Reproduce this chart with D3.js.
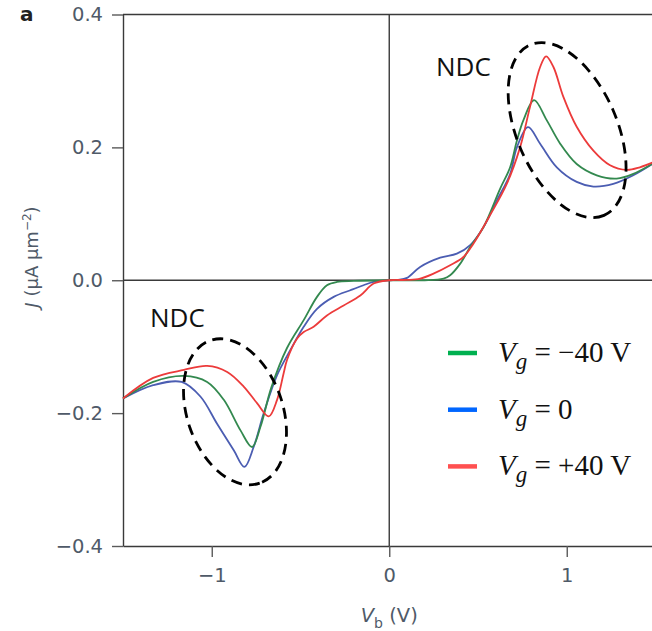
<!DOCTYPE html>
<html>
<head>
<meta charset="utf-8">
<script src="https://cdn.jsdelivr.net/npm/d3@7"></script>
<style>
  body { margin: 0; background: #fff; }
  svg { display: block; }
</style>
</head>
<body>
<div id="chart"></div>
<script>
// axis ticks
const xTicks = [-1, 0, 1];
const yTicks = [-0.4, -0.2, 0, 0.2, 0.4];

// legend entries (gate voltage)
const gateLabels = ['\u221240 V', '0', '+40 V'];

// J-V curves: [Vb (V), J (uA um^-2)]
const curveNeg40 = [
  [-1.5, -0.178], [-1.33, -0.153], [-1.157, -0.144], [-1.026, -0.153], [-0.932, -0.180],
  [-0.838, -0.226], [-0.773, -0.251], [-0.726, -0.221], [-0.665, -0.162], [-0.576, -0.102],
  [-0.482, -0.060], [-0.407, -0.025], [-0.351, -0.0075], [-0.294, -0.0025], [-0.2, -0.001],
  [0, 0], [0.2, 0], [0.306, 0.0025], [0.343, 0.0075], [0.4, 0.025], [0.456, 0.05],
  [0.531, 0.08], [0.625, 0.138], [0.681, 0.17], [0.719, 0.21], [0.756, 0.241], [0.816, 0.271],
  [0.887, 0.241], [0.962, 0.206], [1.056, 0.175], [1.169, 0.158], [1.281, 0.153],
  [1.375, 0.16], [1.5, 0.178]
];
const curveZero = [
  [-1.5, -0.178], [-1.33, -0.158], [-1.17, -0.153], [-1.064, -0.175], [-0.97, -0.216],
  [-0.876, -0.256], [-0.816, -0.281], [-0.764, -0.251], [-0.707, -0.2], [-0.632, -0.143],
  [-0.557, -0.105], [-0.482, -0.07], [-0.407, -0.043], [-0.313, -0.025], [-0.219, -0.015],
  [-0.145, -0.0075], [-0.088, -0.0025], [0, 0], [0.05, 0.0005], [0.1, 0.0035], [0.174, 0.02],
  [0.287, 0.034], [0.381, 0.04], [0.456, 0.053], [0.531, 0.08], [0.606, 0.12], [0.681, 0.16],
  [0.719, 0.2], [0.782, 0.2305], [0.85, 0.2055], [0.944, 0.17], [1.056, 0.148], [1.15, 0.141],
  [1.262, 0.145], [1.375, 0.158], [1.5, 0.178]
];
const curvePos40 = [
  [-1.5, -0.178], [-1.33, -0.147], [-1.157, -0.135], [-1.026, -0.129], [-0.913, -0.138],
  [-0.82, -0.16], [-0.745, -0.185], [-0.679, -0.205], [-0.632, -0.18], [-0.595, -0.14],
  [-0.576, -0.12], [-0.52, -0.088], [-0.482, -0.078], [-0.426, -0.07], [-0.351, -0.053],
  [-0.257, -0.038], [-0.163, -0.023], [-0.088, -0.005], [0, 0], [0.1, 0.0005], [0.174, 0.0025],
  [0.249, 0.01], [0.343, 0.0226], [0.418, 0.035], [0.474, 0.055], [0.568, 0.098], [0.662, 0.145],
  [0.737, 0.2], [0.793, 0.261], [0.85, 0.321], [0.884, 0.337], [0.925, 0.321], [0.981, 0.276],
  [1.056, 0.231], [1.15, 0.195], [1.244, 0.173], [1.338, 0.166], [1.412, 0.17], [1.5, 0.179]
];

// NDC regions: centre [Vb, J], semi-axes in px, tilt in degrees
const ndcRegions = [
  { label: 'NDC', centre: [-0.869, -0.198], rx: 75.5, ry: 47.8, tilt: 70.9 },
  { label: 'NDC', centre: [1.002, 0.226], rx: 92.9, ry: 50.1, tilt: 66.6 }
];

const width = 652;
const height = 631;

const x = d3.scaleLinear().domain([-1.5, 1.5]).range([123, 655.5]);
const y = d3.scaleLinear().domain([-0.4, 0.4]).range([546, 14.5]);

const svg = d3.select('#chart').append('svg')
  .attr('width', width)
  .attr('height', height);

const tickColor = '#4f5a68';
const lineColor = '#3a3a3a';
const tickFont = '"DejaVu Sans", sans-serif';

// frame + zero lines
const frame = svg.append('g')
  .attr('stroke', lineColor)
  .attr('stroke-width', 1.4);

frame.append('line')
  .attr('x1', x(-1.5)).attr('x2', x(1.5))
  .attr('y1', y(0.4)).attr('y2', y(0.4));
frame.append('line')
  .attr('x1', x(-1.5)).attr('x2', x(1.5))
  .attr('y1', y(0)).attr('y2', y(0));
frame.append('line')
  .attr('x1', x(0)).attr('x2', x(0))
  .attr('y1', y(0.4)).attr('y2', y(-0.4));

// axes
const yAxis = svg.append('g')
  .attr('transform', `translate(${x(-1.5)},0)`)
  .call(d3.axisLeft(y).tickValues(yTicks).tickSize(11).tickSizeOuter(0).tickPadding(9)
    .tickFormat(d3.format('.1f')));

const xAxis = svg.append('g')
  .attr('transform', `translate(0,${y(-0.4)})`)
  .call(d3.axisBottom(x).tickValues(xTicks).tickSize(11).tickSizeOuter(0).tickPadding(11)
    .tickFormat(d3.format('d')));

[xAxis, yAxis].forEach(axis => {
  axis.select('.domain').attr('stroke', lineColor).attr('stroke-width', 1.4);
  axis.selectAll('.tick line').attr('stroke', '#5a5a5a').attr('stroke-width', 1.4);
  axis.selectAll('.tick text')
    .attr('fill', tickColor)
    .attr('font-family', tickFont)
    .attr('font-size', 19.5);
});

// axis titles
const xTitle = svg.append('text')
  .attr('x', x(0))
  .attr('y', 622)
  .attr('text-anchor', 'middle')
  .attr('fill', tickColor)
  .attr('font-family', tickFont)
  .attr('font-size', 19.5);
xTitle.append('tspan').attr('font-style', 'italic').text('V');
xTitle.append('tspan').attr('font-size', 14).attr('dy', 6).text('b');
xTitle.append('tspan').attr('dy', -6).text(' (V)');

const yTitle = svg.append('text')
  .attr('transform', `translate(38,257) rotate(-90)`)
  .attr('text-anchor', 'middle')
  .attr('fill', tickColor)
  .attr('font-family', tickFont)
  .attr('font-size', 18);
yTitle.append('tspan').attr('font-style', 'italic').text('J');
yTitle.append('tspan').text(' (\u03bcA \u03bcm');
yTitle.append('tspan').attr('font-size', 12).attr('dy', -7).text('\u22122');
yTitle.append('tspan').attr('dy', 7).text(')');

// panel letter
svg.append('text')
  .attr('x', 20)
  .attr('y', 21)
  .attr('font-family', tickFont)
  .attr('font-weight', 'bold')
  .attr('font-size', 20)
  .attr('fill', '#222')
  .text('a');

// curves
const line = d3.line()
  .x(d => x(d[0]))
  .y(d => y(d[1]))
  .curve(d3.curveCatmullRom.alpha(0.5));

const curves = [
  { data: curveZero, color: '#4b5db2' },
  { data: curveNeg40, color: '#33894f' },
  { data: curvePos40, color: '#ec3b3b' }
];

svg.append('g')
  .selectAll('path')
  .data(curves)
  .join('path')
  .attr('d', d => line(d.data))
  .attr('fill', 'none')
  .attr('stroke', d => d.color)
  .attr('stroke-width', 1.8);

// NDC dashed ellipses
svg.append('g')
  .selectAll('ellipse')
  .data(ndcRegions)
  .join('ellipse')
  .attr('transform', d => `translate(${x(d.centre[0])},${y(d.centre[1])}) rotate(${d.tilt})`)
  .attr('rx', d => d.rx)
  .attr('ry', d => d.ry)
  .attr('fill', 'none')
  .attr('stroke', '#000')
  .attr('stroke-width', 2.8)
  .attr('stroke-dasharray', '11 7');

svg.append('text')
  .attr('x', 150).attr('y', 327)
  .attr('font-family', '"Open Sans", sans-serif')
  .attr('font-size', 26)
  .attr('fill', '#111')
  .text(ndcRegions[0].label);

svg.append('text')
  .attr('x', 436).attr('y', 76)
  .attr('font-family', '"Open Sans", sans-serif')
  .attr('font-size', 26)
  .attr('fill', '#111')
  .text(ndcRegions[1].label);

// legend
const legendColors = ['#00b050', '#0066ff', '#ff5050'];
const legend = svg.append('g');
const rows = legend.selectAll('g')
  .data(gateLabels)
  .join('g')
  .attr('transform', (d, i) => `translate(448,${362 + i * 56.7})`);

rows.append('line')
  .attr('x1', 0).attr('x2', 29)
  .attr('y1', -9).attr('y2', -9)
  .attr('stroke', (d, i) => legendColors[i])
  .attr('stroke-width', 4.5);

const labels = rows.append('text')
  .attr('x', 50)
  .attr('font-family', '"Liberation Serif", serif')
  .attr('font-size', 29)
  .attr('fill', '#111');
labels.append('tspan').attr('font-style', 'italic').text('V');
labels.append('tspan').attr('font-style', 'italic').attr('font-size', 23).attr('dy', 7).text('g');
labels.append('tspan').attr('dy', -7).text(d => ` = ${d}`);
</script>
</body>
</html>
